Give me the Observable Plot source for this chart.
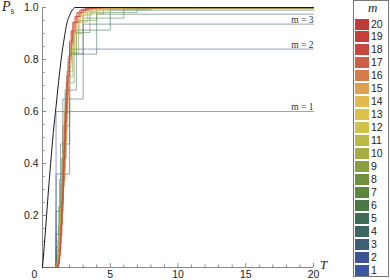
<!DOCTYPE html>
<html><head><meta charset="utf-8">
<script src="https://cdn.jsdelivr.net/npm/d3@7"></script>
<script src="https://cdn.jsdelivr.net/npm/@observablehq/plot@0.6"></script>
<style>
html,body{margin:0;padding:0;background:#fff;}
#wrap{position:relative;width:390px;height:280px;overflow:hidden;font-family:"Liberation Sans",Arial,sans-serif;}
#wrap svg{position:absolute;left:0;top:0;}
.ylab{position:absolute;left:2px;top:-1px;font:italic 14px "Liberation Serif",serif;color:#222;white-space:nowrap;}
.ylab .sub{font:normal 9.5px "Liberation Serif",serif;font-style:normal;position:relative;top:3px;}
.xlab{position:absolute;left:320px;top:257px;font:italic 13px "Liberation Serif",serif;color:#222;}
.legbox{position:absolute;left:353px;top:0px;width:36px;height:277px;border:1px solid #777;box-sizing:border-box;}
.legtitle{position:absolute;left:368px;top:0px;font:italic 13px "Liberation Serif",serif;color:#222;}
.sw{position:absolute;left:355px;width:14px;height:11px;}
.lt{position:absolute;left:371px;font:10.5px "Liberation Sans",Arial,sans-serif;line-height:11px;color:#222;}
</style>
</head><body>
<div id="wrap"></div>
<script>
// m values and legend colours
const mValues = [1,2,3,4,5,6,7,8,9,10,11,12,13,14,15,16,17,18,19,20];
const colors = ["#3c55a0","#3d5391","#3e5e78","#3e6665","#3e6b55","#4a7a44","#5b883f","#6f903d","#8b9e40","#a5ad44",
                "#bdb948","#d1c24a","#dcc04c","#e3b84f","#dca04e","#d47c4c","#cc5f45","#c5463e","#c43f3c","#c13a3a"];

// step positions (T) and success probabilities (P_s) for each m
const stepTimes = [
  [1],
  [1,2],
  [1,1.5,3],
  [1,1.333,2,4],
  [1,1.25,1.667,2.5,5],
  [1,1.2,1.5,2,3,6],
  [1,1.167,1.4,1.75,2.333,3.5,7],
  [1,1.143,1.333,1.6,2,2.667,4,8],
  [1,1.125,1.286,1.5,1.8,2.25,3,4.5,9],
  [1,1.111,1.25,1.429,1.667,2,2.5,3.333,5],
  [1,1.1,1.222,1.375,1.571,1.833,2.2,2.75,3.667,5.5],
  [1,1.091,1.2,1.333,1.5,1.714,2,2.4,3,4,6],
  [1,1.083,1.182,1.3,1.444,1.625,1.857,2.167,2.6,3.25,4.333,6.5],
  [1,1.077,1.167,1.273,1.4,1.556,1.75,2,2.333,2.8,3.5,4.667],
  [1,1.071,1.154,1.25,1.364,1.5,1.667,1.875,2.143,2.5,3,3.75,5],
  [1,1.067,1.143,1.231,1.333,1.455,1.6,1.778,2,2.286,2.667,3.2,4,5.333],
  [1,1.0625,1.133,1.214,1.308,1.417,1.545,1.7,1.889,2.125,2.429,2.833,3.4,4.25],
  [1,1.059,1.125,1.2,1.286,1.385,1.5,1.636,1.8,2,2.25,2.571,3,3.6,4.5],
  [1,1.056,1.118,1.188,1.267,1.357,1.462,1.583,1.727,1.9,2.111,2.375,2.714,3.167,3.8],
  [1,1.053,1.111,1.176,1.25,1.333,1.429,1.538,1.667,1.818,2,2.222,2.5,2.857,3.333,4]
];
const stepProbs = [
  [0.6],
  [0.36,0.84],
  [0.216,0.648,0.936],
  [0.1296,0.4752,0.8208,0.9744],
  [0.0778,0.337,0.6826,0.913,0.9898],
  [0.0467,0.2333,0.5443,0.8208,0.959,0.9959],
  [0.028,0.1586,0.4199,0.7102,0.9037,0.9812,0.9984],
  [0.0168,0.1064,0.3154,0.5941,0.8263,0.9502,0.9915,0.9993],
  [0.0101,0.0705,0.2318,0.4826,0.7334,0.9006,0.975,0.9962,0.9997],
  [0.006,0.0464,0.1673,0.3823,0.6331,0.8338,0.9452,0.9877,0.9983],
  [0.0036,0.0302,0.1189,0.2963,0.5328,0.7535,0.9006,0.9707,0.9941,0.9993],
  [0.0022,0.0196,0.0834,0.2253,0.4382,0.6652,0.8418,0.9427,0.9847,0.9972,0.9997],
  [0.0013,0.0126,0.0579,0.1686,0.353,0.5744,0.7712,0.9023,0.9679,0.9922,0.9987,0.9999],
  [0.0008,0.0081,0.0398,0.1243,0.2793,0.4859,0.6925,0.8499,0.9417,0.9825,0.9961,0.9994],
  [0.0005,0.0052,0.0271,0.0905,0.2173,0.4032,0.6098,0.7869,0.905,0.9662,0.9907,0.9981,0.9997],
  [0.0003,0.0033,0.0183,0.0651,0.1666,0.3288,0.5272,0.7161,0.8577,0.9417,0.9809,0.9951,0.9991,0.9999],
  [0.0002,0.0021,0.0123,0.0464,0.126,0.2639,0.4478,0.6405,0.8011,0.9081,0.9652,0.9894,0.9975,0.9996],
  [0.0001,0.0013,0.0082,0.0328,0.0942,0.2088,0.3743,0.5634,0.7368,0.8653,0.9424,0.9797,0.9943,0.9987,0.9998],
  [0.0001,0.0008,0.0055,0.023,0.0696,0.1629,0.3081,0.4878,0.6675,0.8139,0.9115,0.9648,0.9884,0.9969,0.9994],
  [0,0.0005,0.0036,0.016,0.051,0.1256,0.25,0.4159,0.5956,0.7553,0.8725,0.9435,0.979,0.9935,0.9984,0.9997]
];

// black reference curve
const blackT = [0,0.2,0.4,0.6,0.8,1.0,1.2,1.4,1.6,1.8,2.0,2.2,2.4,3,20];
const blackP = [0,0.13,0.27,0.40,0.52,0.62,0.72,0.81,0.88,0.94,0.97,0.99,1.0,1.0,1.0];

// axis ticks
const xMajor = [5,10,15,20];
const xMinor = [1,2,3,4,6,7,8,9,11,12,13,14,16,17,18,19];
const yMajor = [0.2,0.4,0.6,0.8,1.0];
const yMinor = [0.05,0.1,0.15,0.25,0.3,0.35,0.45,0.5,0.55,0.65,0.7,0.75,0.85,0.9,0.95];
const labelledM = [1,2,3];

const rows = [];
mValues.forEach((m,i)=>{
  const ps = stepProbs[i];
  rows.push({m, T:0, P:0});
  stepTimes[i].forEach((t,j)=>rows.push({m, T:t, P:ps[j]}));
  rows.push({m, T:20, P:ps[ps.length-1]});
});
const black = blackT.map((t,i)=>({T:t, P:blackP[i]}));
const labels = labelledM.map(m=>({m, T:20, P:stepProbs[m-1][stepProbs[m-1].length-1], text:"m = "+m}));

const axisCol = "#8a8a8a";
const chart = Plot.plot({
  width:390, height:280, marginLeft:42, marginRight:77, marginTop:7, marginBottom:13,
  x:{domain:[0,20]}, y:{domain:[0,1]},
  color:{domain:mValues, range:colors},
  style:{fontFamily:"Liberation Sans, Arial, sans-serif", fontSize:"10.5px", color:"#222", background:"white"},
  marks:[
    Plot.ruleY([0], {stroke:axisCol}),
    Plot.ruleX([0], {stroke:axisCol}),
    Plot.axisX(xMajor, {tickSize:-4, text:null, stroke:axisCol, label:null}),
    Plot.axisX(xMinor, {tickSize:-2.5, text:null, stroke:axisCol, label:null}),
    Plot.axisX(xMajor, {tickSize:0, tickPadding:3, label:null, fill:"#222"}),
    Plot.axisX([0], {tickSize:0, tickPadding:3, dx:-8, label:null, fill:"#222"}),
    Plot.axisY(yMajor, {tickSize:-4, text:null, stroke:axisCol, label:null}),
    Plot.axisY(yMinor, {tickSize:-2.5, text:null, stroke:axisCol, label:null}),
    Plot.axisY(yMajor, {tickSize:0, tickPadding:4, tickFormat:".1f", label:null, fill:"#222"}),
    Plot.line(rows, {x:"T", y:"P", z:"m", stroke:"m", curve:"step-after", strokeWidth:1, strokeOpacity:0.55}),
    Plot.line(black, {x:"T", y:"P", stroke:"#1a1a1a", strokeWidth:1, curve:"monotone-x"}),
    Plot.text(labels, {x:"T", y:"P", text:"text", textAnchor:"end", lineAnchor:"bottom", dy:-1.5, fontSize:9.5, fontFamily:"Liberation Serif, serif", fill:"#333", ariaLabel:"mlabel"})
  ]
});
const wrap = document.getElementById("wrap");
wrap.appendChild(chart);
// italic m in line labels
d3.select(chart).selectAll('g[aria-label="mlabel"] text').each(function(){
  const t = this.textContent;
  const rest = t.slice(1);
  const sel = d3.select(this); sel.text(null);
  sel.append("tspan").attr("font-style","italic").text("m");
  sel.append("tspan").text(rest);
});
// axis labels
const yl = document.createElement("div"); yl.className="ylab";
yl.innerHTML = 'P<span class="sub">s</span>'; wrap.appendChild(yl);
const xl = document.createElement("div"); xl.className="xlab"; xl.textContent="T"; wrap.appendChild(xl);
// legend
const lb = document.createElement("div"); lb.className="legbox"; wrap.appendChild(lb);
const lt = document.createElement("div"); lt.className="legtitle"; lt.textContent="m"; wrap.appendChild(lt);
mValues.slice().reverse().forEach((m,i)=>{
  const top = 18.5 + i*12.95;
  const sw = document.createElement("div"); sw.className="sw";
  sw.style.top = top+"px"; sw.style.background = colors[m-1]; wrap.appendChild(sw);
  const tx = document.createElement("div"); tx.className="lt";
  tx.style.top = (top)+"px"; tx.textContent = m; wrap.appendChild(tx);
});
</script>
</body></html>
